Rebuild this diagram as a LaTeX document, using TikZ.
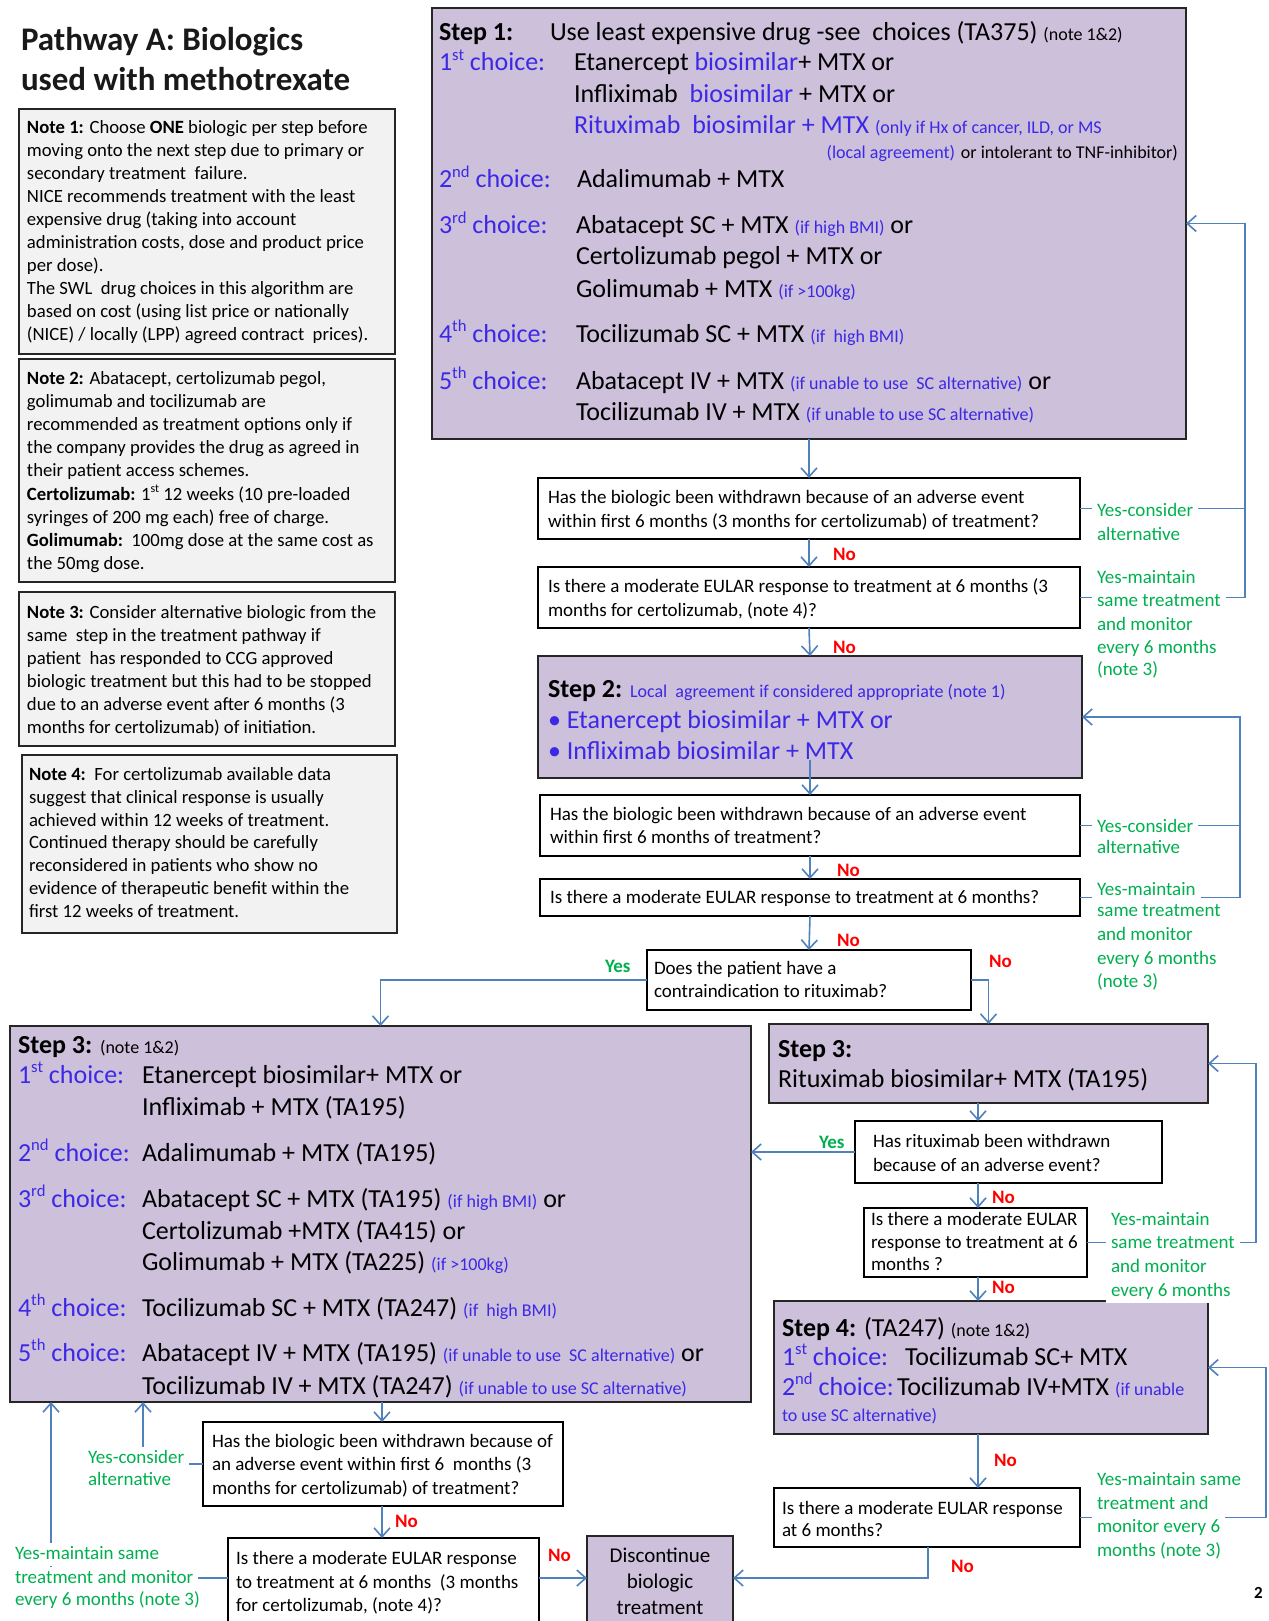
\documentclass[tikz,border=0pt]{standalone}
\usepackage{fontspec}
\setmainfont{Carlito}
\usetikzlibrary{arrows.meta}
\definecolor{lav}{RGB}{204,192,218}
\definecolor{notegray}{RGB}{242,242,242}
\definecolor{arrblue}{RGB}{79,129,189}
\definecolor{grn}{RGB}{0,176,80}
\definecolor{redno}{RGB}{255,0,0}
\definecolor{blu}{RGB}{60,40,230}
\definecolor{edge}{RGB}{38,38,38}
\newcommand\fsz[2]{\fontsize{#1}{#2}\selectfont}
\newcommand\bluetxt[1]{\textcolor{blu}{#1}}
\newcommand\smalltxt[1]{{\fsz{18}{22}#1}}
\newcommand\smallblue[1]{{\fsz{18}{22}\color{blu}#1}}
\newcommand\sps[1]{\raisebox{0.42em}{\scalebox{0.64}{#1}}}
\newcommand\tline[5][txt]{\node[#1] (#2) at (#3,#4) {#5};}
\begin{document}
\begin{tikzpicture}[x=1pt,y=-1pt,
  every node/.style={inner sep=0pt,outer sep=0pt},
  stepbox/.style={draw=edge,line width=2pt,fill=lav,anchor=north west},
  qbox/.style={draw=black,line width=1.8pt,fill=white,anchor=north west},
  notebox/.style={draw=edge,line width=2.2pt,fill=notegray,anchor=north west},
  txt/.style={anchor=base west,font=\fsz{26}{31}},
  ttl/.style={anchor=base west,font=\bfseries\fsz{33}{40},text=black!90},
  qtxt/.style={anchor=base west,font=\fsz{19}{23}},
  ntxt/.style={anchor=base west,font=\fsz{18.7}{23}},
  dtxt/.style={anchor=base,font=\fsz{21}{26}},
  glab/.style={anchor=base west,font=\fsz{19}{23},text=grn,fill=white,inner xsep=5pt,inner ysep=2pt,text height=14pt,text depth=5pt},
  yeslab/.style={anchor=base west,font=\bfseries\fsz{19}{23},text=grn},
  nolab/.style={anchor=base west,font=\bfseries\fsz{19}{23},text=redno},
  conn/.style={draw=arrblue,line width=1.6pt},
  arr/.style={conn,-{Straight Barb[length=9pt,width=16pt]}}
]
\useasboundingbox (0,0) rectangle (1268,1621);
\clip (0,0) rectangle (1268,1621);
\fill[white] (0,0) rectangle (1268,1621);

% ---------- title ----------
\tline[ttl]{title1}{21}{51}{Pathway A: Biologics}
\tline[ttl]{title2}{21}{91}{used with methotrexate}

% ---------- notes ----------
\node[notebox,minimum width=376pt,minimum height=245pt] (n1) at (19,109) {};
\tline[ntxt]{n1a}{27}{134}{\textbf{Note 1:} Choose \textbf{ONE} biologic per step before}
\tline[ntxt]{n1b}{27}{157}{moving onto the next step due to primary or}
\tline[ntxt]{n1c}{27}{180}{secondary treatment\ \ failure.}
\tline[ntxt]{n1d}{27}{203}{NICE recommends treatment with the least}
\tline[ntxt]{n1e}{27}{226}{expensive drug (taking into account}
\tline[ntxt]{n1f}{27}{248}{administration costs, dose and product price}
\tline[ntxt]{n1g}{27}{271}{per dose).}
\tline[ntxt]{n1h}{27}{294}{The SWL\ \ drug choices in this algorithm are}
\tline[ntxt]{n1i}{27}{317}{based on cost (using list price or nationally}
\tline[ntxt]{n1j}{27}{340}{(NICE) / locally (LPP) agreed contract\ \ prices).}

\node[notebox,minimum width=376pt,minimum height=223pt] (n2) at (19,359) {};
\tline[ntxt]{n2a}{27}{384}{\textbf{Note 2:} Abatacept, certolizumab pegol,}
\tline[ntxt]{n2b}{27}{407}{golimumab and tocilizumab are}
\tline[ntxt]{n2c}{27}{430}{recommended as treatment options only if}
\tline[ntxt]{n2d}{27}{453}{the company provides the drug as agreed in}
\tline[ntxt]{n2e}{27}{476}{their patient access schemes.}
\tline[ntxt]{n2f}{27}{500}{\textbf{Certolizumab:} 1\sps{st} 12 weeks (10 pre-loaded}
\tline[ntxt]{n2g}{27}{523}{syringes of 200 mg each) free of charge.}
\tline[ntxt]{n2h}{27}{546}{\textbf{Golimumab:}\ \ 100mg dose at the same cost as}
\tline[ntxt]{n2i}{27}{569}{the 50mg dose.}

\node[notebox,minimum width=376pt,minimum height=154pt] (n3) at (19,592) {};
\tline[ntxt]{n3a}{27}{618}{\textbf{Note 3:} Consider alternative biologic from the}
\tline[ntxt]{n3b}{27}{641}{same\ \ step in the treatment pathway if}
\tline[ntxt]{n3c}{27}{664}{patient\ \ has responded to CCG approved}
\tline[ntxt]{n3d}{27}{687}{biologic treatment but this had to be stopped}
\tline[ntxt]{n3e}{27}{710}{due to an adverse event after 6 months (3}
\tline[ntxt]{n3f}{27}{733}{months for certolizumab) of initiation.}

\node[notebox,minimum width=375pt,minimum height=178pt] (n4) at (22,755) {};
\tline[ntxt]{n4a}{29}{780}{\textbf{Note 4:}\ \ For certolizumab available data}
\tline[ntxt]{n4b}{29}{803}{suggest that clinical response is usually}
\tline[ntxt]{n4c}{29}{826}{achieved within 12 weeks of treatment.}
\tline[ntxt]{n4d}{29}{848}{Continued therapy should be carefully}
\tline[ntxt]{n4e}{29}{871}{reconsidered in patients who show no}
\tline[ntxt]{n4f}{29}{894}{evidence of therapeutic benefit within the}
\tline[ntxt]{n4g}{29}{917}{first 12 weeks of treatment.}

% ---------- boxes ----------
\node[stepbox,minimum width=754pt,minimum height=431pt] (s1) at (432,8) {};
\node[qbox,minimum width=542pt,minimum height=61pt] (q1a) at (538,478) {};
\node[qbox,minimum width=542pt,minimum height=61pt] (q1b) at (538,567) {};
\node[stepbox,minimum width=544pt,minimum height=122pt] (s2) at (538,656) {};
\node[qbox,minimum width=540pt,minimum height=61pt] (q2a) at (540,795) {};
\node[qbox,minimum width=540pt,minimum height=37pt] (q2b) at (540,879) {};
\node[qbox,minimum width=324pt,minimum height=60pt] (qci) at (647,950) {};
\node[stepbox,minimum width=741pt,minimum height=376pt] (s3l) at (10,1026) {};
\node[stepbox,minimum width=439pt,minimum height=79pt] (s3r) at (769,1024) {};
\node[qbox,minimum width=307pt,minimum height=62pt] (qrw) at (855,1121) {};
\node[qbox,minimum width=223pt,minimum height=69pt] (qre) at (864,1208) {};
\node[stepbox,minimum width=434pt,minimum height=133pt] (s4) at (774,1301) {};
\node[qbox,minimum width=306pt,minimum height=59pt] (q4e) at (774,1488) {};
\node[qbox,minimum width=360pt,minimum height=84pt] (q3a) at (203,1422) {};
\node[qbox,minimum width=311pt,minimum height=100pt] (q3b) at (228,1538) {};
\node[stepbox,minimum width=146pt,minimum height=100pt] (disc) at (587,1536) {};

% ---------- helper coordinates ----------
\coordinate (colR) at (978,0);
\coordinate (colL) at (382,0);
\coordinate (colD) at (928,0);
\coordinate (cY) at (0,1578);
\coordinate (lA) at (1245,0);
\coordinate (lB) at (1240,0);
\coordinate (lC) at (1256,0);
\coordinate (lD) at (1266,0);
\coordinate (lE) at (143,0);
\coordinate (lF) at (51,0);

% ---------- connectors ----------
\draw[arr] (s1.south) -- (q1a.north);
\draw[arr] (q1a.south) -- (q1b.north);
\draw[arr] (q1b.south) -- (s2.north);
\draw[arr] ([yshift=18pt]s2.south) -- (q2a.north);
\draw[arr] (q2a.south) -- (q2b.north);
\draw[arr] (q2b.south) -- (qci.north);
\draw[arr] (qci.west) -| (s3l.north);
\draw[arr] (qci.east) -| (s3r.north);
\draw[arr] (s3r.south -| colR) -- (qrw.north -| colR);
\draw[arr] (qrw.south -| colR) -- (qre.north -| colR);
\draw[arr] (qre.south -| colR) -- (s4.north -| colR);
\draw[arr] (s4.south -| colR) -- (q4e.north -| colR);
\draw[arr] (q4e.south -| colD) |- (disc.east |- cY);
\draw[arr] (qrw.west) -- (qrw.west -| s3l.east);
\draw[arr] (s3l.south -| colL) -- (q3a.north -| colL);
\draw[arr] (q3a.south -| colL) -- (q3b.north -| colL);
\draw[arr] (q3b.east |- cY) -- (disc.west |- cY);
% loops
\draw[arr] (q1a.east) -| (s1.east -| lA) -- (s1.east);
\draw[conn] (q1b.east) -| (s1.east -| lA);
\draw[arr] (q2a.east) -| (s2.east -| lB) -- (s2.east);
\draw[conn] (q2b.east) -| (s2.east -| lB);
\draw[arr] (qre.east) -| (s3r.east -| lC) -- (s3r.east);
\draw[arr] (q4e.east) -| (s4.east -| lD) -- (s4.east);
\draw[arr] (q3a.west) -| (s3l.south -| lE);
\draw[arr] (q3b.west |- cY) -| (s3l.south -| lF);

% ---------- step 1 text ----------
\tline{s1l0}{439}{41}{\textbf{Step 1:}}
\tline{s1t0}{550}{41}{Use least expensive drug -see\ \ choices (TA375) \smalltxt{(note 1\&2)}}
\tline{s1l1}{439}{71}{\bluetxt{1\sps{st} choice:}}
\tline{s1t1}{574}{71}{Etanercept \bluetxt{biosimilar}+ MTX or}
\tline{s1t2}{574}{103}{Infliximab\ \ \bluetxt{biosimilar} + MTX or}
\tline{s1t3}{574}{134}{\bluetxt{Rituximab\ \ biosimilar + MTX} \smallblue{(only if Hx of cancer, ILD, or MS}}
\tline[txt,anchor=base east]{s1t4}{1178}{159}{\smallblue{(local agreement)} \smalltxt{or intolerant to TNF-inhibitor)}}
\tline{s1l5}{439}{188}{\bluetxt{2\sps{nd} choice:}}
\tline{s1t5}{577}{188}{Adalimumab + MTX}
\tline{s1l6}{439}{234}{\bluetxt{3\sps{rd} choice:}}
\tline{s1t6}{576}{234}{Abatacept SC + MTX \smallblue{(if high BMI)} or}
\tline{s1t7}{576}{265}{Certolizumab pegol + MTX or}
\tline{s1t8}{576}{297}{Golimumab + MTX \smallblue{(if >100kg)}}
\tline{s1l9}{439}{342}{\bluetxt{4\sps{th} choice:}}
\tline{s1t9}{576}{342}{Tocilizumab SC + MTX \smallblue{(if\ \ high BMI)}}
\tline{s1l10}{439}{389}{\bluetxt{5\sps{th} choice:}}
\tline{s1t10}{576}{389}{Abatacept IV + MTX \smallblue{(if unable to use\ \ SC alternative)} or}
\tline{s1t11}{576}{420}{Tocilizumab IV + MTX \smallblue{(if unable to use SC alternative)}}

% ---------- questions step 1 ----------
\tline[qtxt]{q1at1}{548}{503}{Has the biologic been withdrawn because of an adverse event}
\tline[qtxt]{q1at2}{548}{527}{within first 6 months (3 months for certolizumab) of treatment?}
\tline[qtxt]{q1bt1}{548}{592}{Is there a moderate EULAR response to treatment at 6 months (3}
\tline[qtxt]{q1bt2}{548}{616}{months for certolizumab, (note 4)?}

% ---------- step 2 ----------
\tline{s2l0}{548}{697}{\textbf{Step 2:} \smallblue{Local\ \ agreement if considered appropriate (note 1)}}
\tline{s2t1}{548}{728}{\bluetxt{• Etanercept biosimilar + MTX or}}
\tline{s2t2}{548}{759}{\bluetxt{• Infliximab biosimilar + MTX}}
\tline[qtxt]{q2at1}{550}{820}{Has the biologic been withdrawn because of an adverse event}
\tline[qtxt]{q2at2}{550}{843}{within first 6 months of treatment?}
\tline[qtxt]{q2bt1}{550}{903}{Is there a moderate EULAR response to treatment at 6 months?}
\tline[qtxt]{qcit1}{654}{974}{Does the patient have a}
\tline[qtxt]{qcit2}{654}{997}{contraindication to rituximab?}

% ---------- step 3 left ----------
\tline{s3a}{18}{1053}{\textbf{Step 3:} \smalltxt{(note 1\&2)}}
\tline{s3b}{18}{1083}{\bluetxt{1\sps{st} choice:}}
\tline{s3c}{142}{1083}{Etanercept biosimilar+ MTX or}
\tline{s3d}{142}{1115}{Infliximab + MTX (TA195)}
\tline{s3e}{18}{1161}{\bluetxt{2\sps{nd} choice:}}
\tline{s3f}{142}{1161}{Adalimumab + MTX (TA195)}
\tline{s3g}{18}{1207}{\bluetxt{3\sps{rd} choice:}}
\tline{s3h}{142}{1207}{Abatacept SC + MTX (TA195) \smallblue{(if high BMI)} or}
\tline{s3i}{142}{1239}{Certolizumab +MTX (TA415) or}
\tline{s3j}{142}{1270}{Golimumab + MTX (TA225) \smallblue{(if >100kg)}}
\tline{s3k}{18}{1316}{\bluetxt{4\sps{th} choice:}}
\tline{s3l1}{142}{1316}{Tocilizumab SC + MTX (TA247) \smallblue{(if\ \ high BMI)}}
\tline{s3m}{18}{1361}{\bluetxt{5\sps{th} choice:}}
\tline{s3n}{142}{1361}{Abatacept IV + MTX (TA195) \smallblue{(if unable to use\ \ SC alternative)} or}
\tline{s3o}{142}{1394}{Tocilizumab IV + MTX (TA247) \smallblue{(if unable to use SC alternative)}}

% ---------- step 3 right and step 4 ----------
\tline{s3rt1}{778}{1057}{\textbf{Step 3:}}
\tline{s3rt2}{778}{1087}{Rituximab biosimilar+ MTX (TA195)}
\tline[qtxt]{qrwt1}{873}{1147}{Has rituximab been withdrawn}
\tline[qtxt]{qrwt2}{873}{1171}{because of an adverse event?}
\tline[qtxt]{qret1}{871}{1225}{Is there a moderate EULAR}
\tline[qtxt]{qret2}{871}{1248}{response to treatment at 6}
\tline[qtxt]{qret3}{871}{1270}{months ?}
\tline{s4t1}{782}{1336}{\textbf{Step 4:} (TA247) \smalltxt{(note 1\&2)}}
\tline{s4t2}{782}{1365}{\bluetxt{1\sps{st} choice:}}
\tline{s4t3}{905}{1365}{Tocilizumab SC+ MTX}
\tline{s4t4}{782}{1395}{\bluetxt{2\sps{nd} choice:}}
\tline{s4t5}{897}{1395}{Tocilizumab IV+MTX \smallblue{(if unable}}
\tline{s4t6}{782}{1421}{\smallblue{to use SC alternative)}}
\tline[qtxt]{q4et1}{782}{1514}{Is there a moderate EULAR response}
\tline[qtxt]{q4et2}{782}{1536}{at 6 months?}

% ---------- bottom left ----------
\tline[qtxt]{q3at1}{212}{1447}{Has the biologic been withdrawn because of}
\tline[qtxt]{q3at2}{212}{1470}{an adverse event within first 6\ \ months (3}
\tline[qtxt]{q3at3}{212}{1494}{months for certolizumab) of treatment?}
\tline[qtxt]{q3bt1}{236}{1564}{Is there a moderate EULAR response}
\tline[qtxt]{q3bt2}{236}{1588}{to treatment at 6 months\ \ (3 months}
\tline[qtxt]{q3bt3}{236}{1611}{for certolizumab, (note 4)?}
\tline[dtxt]{dt1}{660}{1562}{Discontinue}
\tline[dtxt]{dt2}{660}{1588}{biologic}
\tline[dtxt]{dt3}{660}{1614}{treatment}

% ---------- green labels ----------
\tline[glab]{g1a}{1092}{516}{Yes-consider}
\tline[glab]{g1b}{1092}{540}{alternative}
\tline[glab]{g2a}{1092}{583}{Yes-maintain}
\tline[glab]{g2b}{1092}{606}{same treatment}
\tline[glab]{g2c}{1092}{630}{and monitor}
\tline[glab]{g2d}{1092}{653}{every 6 months}
\tline[glab]{g2e}{1092}{675}{(note 3)}
\tline[glab]{g3a}{1092}{832}{Yes-consider}
\tline[glab]{g3b}{1092}{853}{alternative}
\tline[glab]{g4a}{1092}{895}{Yes-maintain}
\tline[glab]{g4b}{1092}{916}{same treatment}
\tline[glab]{g4c}{1092}{940}{and monitor}
\tline[glab]{g4d}{1092}{964}{every 6 months}
\tline[glab]{g4e}{1092}{987}{(note 3)}
\tline[glab]{g5a}{1106}{1225}{Yes-maintain}
\tline[glab]{g5b}{1106}{1248}{same treatment}
\tline[glab]{g5c}{1106}{1272}{and monitor}
\tline[glab]{g5d}{1106}{1296}{every 6 months}
\tline[glab]{g6a}{1092}{1485}{Yes-maintain same}
\tline[glab]{g6b}{1092}{1509}{treatment and}
\tline[glab]{g6c}{1092}{1532}{monitor every 6}
\tline[glab]{g6d}{1092}{1556}{months (note 3)}
\tline[glab]{g7a}{83}{1463}{Yes-consider}
\tline[glab]{g7b}{83}{1485}{alternative}
\tline[glab]{g8a}{10}{1559}{Yes-maintain same}
\tline[glab]{g8b}{10}{1583}{treatment and monitor}
\tline[glab]{g8c}{10}{1605}{every 6 months (note 3)}
\tline[yeslab]{y1}{605}{972}{Yes}
\tline[yeslab]{y2}{819}{1148}{Yes}

% ---------- red No labels ----------
\tline[nolab]{no1}{833}{560}{No}
\tline[nolab]{no2}{833}{653}{No}
\tline[nolab]{no3}{837}{876}{No}
\tline[nolab]{no4}{837}{946}{No}
\tline[nolab]{no5}{989}{967}{No}
\tline[nolab]{no6}{992}{1203}{No}
\tline[nolab]{no7}{992}{1293}{No}
\tline[nolab]{no8}{994}{1466}{No}
\tline[nolab]{no9}{951}{1572}{No}
\tline[nolab]{no10}{395}{1527}{No}
\tline[nolab]{no11}{548}{1561}{No}

\node[anchor=base west,font=\bfseries\fsz{17}{20}] (pg) at (1254,1598) {2};
\end{tikzpicture}
\end{document}
